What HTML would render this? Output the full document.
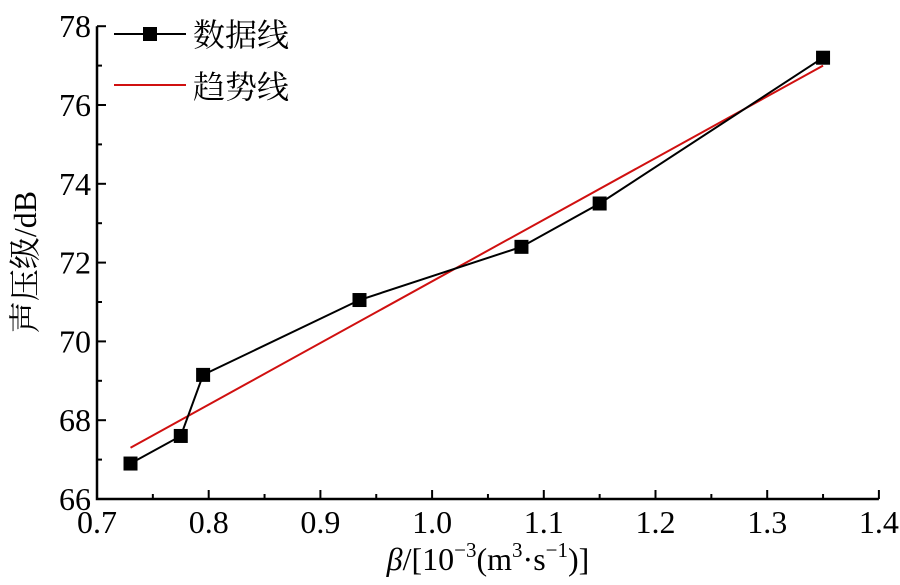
<!DOCTYPE html>
<html><head><meta charset="utf-8"><style>
body{margin:0;background:#fff;width:900px;height:580px;overflow:hidden}
text{font-family:"Liberation Serif","Noto Serif CJK SC",serif;fill:#000}
</style></head><body>
<svg id="chart" width="900" height="580" xmlns="http://www.w3.org/2000/svg"></svg>
<script>
const xVals=[0.73,0.775,0.795,0.935,1.08,1.15,1.35];
const yVals=[66.9,67.6,69.15,71.05,72.4,73.5,77.2];
const trendX=[0.73,1.35];
const trendY=[67.3,77.0];
const xTicks=[0.7,0.8,0.9,1.0,1.1,1.2,1.3,1.4];
const xTickLabels=["0.7","0.8","0.9","1.0","1.1","1.2","1.3","1.4"];
const yTicks=[66,68,70,72,74,76,78];
const yTickLabels=["66","68","70","72","74","76","78"];
const X0=97,Y0=499;
const sx=v=>X0+(v-0.7)*1117;
const sy=v=>Y0-(v-66)*39.4;
const svg=document.getElementById('chart');
const NS='http://www.w3.org/2000/svg';
function mk(t,a,p){const e=document.createElementNS(NS,t);for(const k in a)e.setAttribute(k,a[k]);(p||svg).appendChild(e);return e;}
let ax=mk('path',{d:`M${X0},${sy(78)} V${Y0} H${sx(1.4)}`,stroke:'#000','stroke-width':2.5,fill:'none'});


xTicks.forEach((v,i)=>{
  let t=mk('line',{x1:sx(v),x2:sx(v),y1:Y0,y2:Y0-9,stroke:'#000','stroke-width':2});
  
  
  if(i<xTicks.length-1){let m=mk('line',{x1:sx(v+0.05),x2:sx(v+0.05),y1:Y0,y2:Y0-5,stroke:'#000','stroke-width':2});
  
  }
  let l=mk('text',{x:sx(v),y:Y0+34,'text-anchor':'middle','font-size':32});
  l.textContent=xTickLabels[i];
  
  
});
yTicks.forEach((v,i)=>{
  let t=mk('line',{x1:X0,x2:X0+9,y1:sy(v),y2:sy(v),stroke:'#000','stroke-width':2});
  
  
  if(i<yTicks.length-1){let m=mk('line',{x1:X0,x2:X0+5,y1:sy(v+1),y2:sy(v+1),stroke:'#000','stroke-width':2});
  
  }
  let l=mk('text',{x:X0-6,y:sy(v)+11,'text-anchor':'end','font-size':32});
  l.textContent=yTickLabels[i];
  
  
});
let tr=mk('polyline',{points:trendX.map((x,i)=>sx(x)+','+sy(trendY[i])).join(' '),stroke:'#d01010','stroke-width':2,fill:'none'});


let dl=mk('polyline',{points:xVals.map((x,i)=>sx(x)+','+sy(yVals[i])).join(' '),stroke:'#000','stroke-width':2,fill:'none'});


xVals.forEach((x,i)=>{
  let r=mk('rect',{x:sx(x)-7,y:sy(yVals[i])-7,width:14,height:14,fill:'#000'});
  
  
});
let g=mk('g',{});


mk('line',{x1:114,x2:186,y1:34,y2:34,stroke:'#000','stroke-width':2},g);
mk('rect',{x:143,y:27,width:14,height:14,fill:'#000'},g);
let t1=mk('text',{x:193,y:46,'font-size':32},g);t1.textContent='数据线';


mk('line',{x1:114,x2:186,y1:85,y2:85,stroke:'#d01010','stroke-width':2},g);
let t2=mk('text',{x:193,y:98,'font-size':32},g);t2.textContent='趋势线';


let yt=mk('text',{x:36,y:262,'text-anchor':'middle','font-size':32,transform:'rotate(-90 36 262)'});
yt.textContent='声压级/dB';


let xt=mk('text',{x:488,y:570,'text-anchor':'middle','font-size':32});
xt.innerHTML='<tspan font-style="italic">β</tspan>/[10<tspan font-size="21" dy="-13">−3</tspan><tspan dy="13">(m</tspan><tspan font-size="21" dy="-13">3</tspan><tspan dy="13">·s</tspan><tspan font-size="21" dy="-13">−1</tspan><tspan dy="13">)]</tspan>';


</script>
</body></html>
